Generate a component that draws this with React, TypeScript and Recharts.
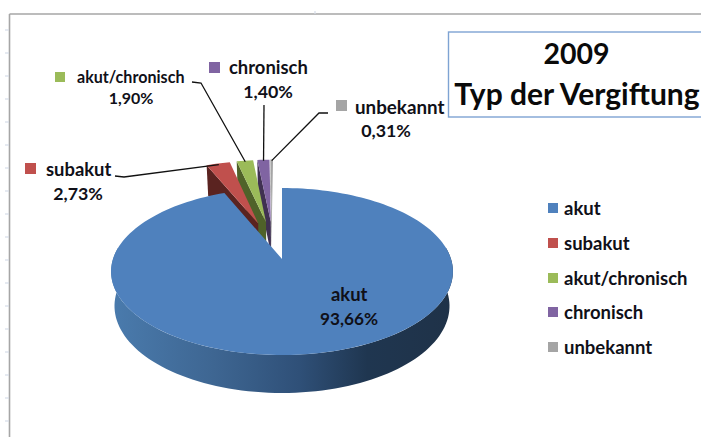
import React from "react";
import { PieChart, Pie, Legend, Customized } from "recharts";

const categories = ["akut", "subakut", "akut/chronisch", "chronisch", "unbekannt"];
const values = [93.66, 2.73, 1.9, 1.4, 0.31];
const topColors = ["#4f81bd", "#c0504d", "#9bbb59", "#8064a2", "#a5a5a5"];
const wallColors = ["#2f4f75", "#5a2320", "#4f6229", "#403152", "#6f6f6f"];
const tableData = categories.map((name, i) => ({ name, value: values[i], fill: topColors[i] }));
const backToFront = [...tableData].reverse();

const titleLines = ["2009", "Typ der Vergiftung"];
const leftTickRows = [30, 53, 76, 99, 122, 145, 168, 191, 214, 237, 260, 283, 306, 329, 352, 375, 398, 421];

const FONT = "Lato, 'Open Sans', sans-serif";
const TEXT = "#101018";

// perspective of the pie plane
const A = -42.85;
const C = 0.1497;
const EXPLODE = 0.49;
const NUDGE = [0, 0, -0.02, -0.04, -0.06];
const DEG = Math.PI / 180;

type Pt = { x: number; y: number };
const project = (cx: number, cy: number, r: number, u: number, v: number): Pt => {
  const w = 1 + C * v;
  return { x: cx + (r * u) / w, y: (cy + A * v) / w };
};
const lower = (cx: number, p: Pt): Pt => {
  const d = 30 + (8 * (p.y - 165)) / 190;
  return { x: cx + (p.x - cx) * 0.98, y: p.y + d };
};
const toPath = (pts: Pt[]) => "M" + pts.map((p) => `${p.x.toFixed(2)},${p.y.toFixed(2)}`).join("L") + "Z";

const arc = (cx: number, cy: number, r: number, from: number, to: number, ou = 0, ov = 0) => {
  const n = Math.max(4, Math.ceil(Math.abs(to - from) / 2));
  const out: Pt[] = [];
  for (let i = 0; i <= n; i++) {
    const a = (from + ((to - from) * i) / n) * DEG;
    out.push(project(cx, cy, r, Math.cos(a) + ou, Math.sin(a) + ov));
  }
  return out;
};

const offsetOf = (index: number, start: number, end: number) => {
  const mid = ((start + end) / 2) * DEG;
  return [EXPLODE * Math.cos(mid) + NUDGE[index], EXPLODE * Math.sin(mid)];
};

const SmallSlice = (props: any) => {
  const index = categories.indexOf(props.name);
  if (index <= 0) return <g />;
  const { cx, cy, outerRadius: r, startAngle, endAngle } = props;
  const [ou, ov] = offsetOf(index, startAngle, endAngle);
  const rim = arc(cx, cy, r, startAngle, endAngle, ou, ov);
  const apex = project(cx, cy, r, ou, ov);
  const last = rim[rim.length - 1];
  const wall = [apex, last, lower(cx, last), lower(cx, apex)];
  return (
    <g>
      <path d={toPath(wall)} fill={wallColors[index]} />
      <path d={toPath([apex, ...rim])} fill={topColors[index]} />
    </g>
  );
};

const MainSlice = (props: any) => {
  const index = categories.indexOf(props.name);
  if (index !== 0) return <g />;
  const { cx, cy, outerRadius: r, startAngle, endAngle } = props;
  const rim = arc(cx, cy, r, startAngle, endAngle);
  const apex = project(cx, cy, r, 0, 0);
  const front = arc(cx, cy, r, 172, 368);
  const wall = [...front, ...front.map((p) => lower(cx, p)).reverse()];
  return (
    <g>
      <defs>
        <linearGradient id="wallFill" x1="0" y1="0" x2="1" y2="0">
          <stop offset="0" stopColor="#4a7bad" />
          <stop offset="0.3" stopColor="#3e6692" />
          <stop offset="0.55" stopColor="#2f5078" />
          <stop offset="0.75" stopColor="#1f3650" />
          <stop offset="1" stopColor="#1f3248" />
        </linearGradient>
      </defs>
      <path d={toPath(wall)} fill="url(#wallFill)" />
      <path d={toPath([apex, ...rim])} fill={topColors[0]} />
    </g>
  );
};

const labelSpots = [
  { y: 301, sq: null as null | number[], nameX: 331, fs: 18.4, pct: 17.2, pctX: 349, pctDy: 24 },
  { y: 176, sq: [25, 163, 11], nameX: 46, fs: 18.4, pct: 17.8, pctX: 78, pctDy: 24 },
  { y: 83, sq: [55, 72, 10], nameX: 77, fs: 16.1, pct: 16, pctX: 131, pctDy: 21 },
  { y: 74, sq: [209, 62, 11], nameX: 229, fs: 18.4, pct: 17.8, pctX: 268, pctDy: 24 },
  { y: 114, sq: [336, 100, 11], nameX: 355, fs: 18.8, pct: 17.8, pctX: 386, pctDy: 23 },
];
const leaderBends = [
  null,
  [[115, 176], [124, 177]],
  [[192, 82], [201, 83]],
  [[264, 105], [264, 105]],
  [[328, 113], [319, 113]],
];

const SliceLabel = (props: any) => {
  const index = categories.indexOf(props.name);
  if (index < 0) return null;
  const { cx, cy, outerRadius: r, startAngle, endAngle, value } = props;
  const spot = labelSpots[index];
  const text = value.toFixed(2).replace(".", ",") + "%";
  const bend = leaderBends[index];
  let line = null;
  if (bend) {
    const [ou, ov] = offsetOf(index, startAngle, endAngle);
    const mid = ((startAngle + endAngle) / 2) * DEG;
    const end = project(cx, cy, r, Math.cos(mid) * 0.98 + ou, Math.sin(mid) * 0.98 + ov);
    line = (
      <polyline
        points={`${bend[0][0]},${bend[0][1]} ${bend[1][0]},${bend[1][1]} ${end.x},${end.y}`}
        fill="none"
        stroke="#111"
        strokeWidth={1.3}
      />
    );
  }
  return (
    <g>
      {line}
      {spot.sq && <rect x={spot.sq[0]} y={spot.sq[1]} width={spot.sq[2]} height={spot.sq[2]} fill={topColors[index]} />}
      <text x={spot.nameX} y={spot.y} fontFamily={FONT} fontWeight={700} fontSize={spot.fs} fill={TEXT}>
        {categories[index]}
      </text>
      <text x={spot.pctX} y={spot.y + spot.pctDy} textAnchor="middle" fontFamily={FONT} fontWeight={700} fontSize={spot.pct} fill={TEXT}>
        {text}
      </text>
    </g>
  );
};

const Frame = () => (
  <g>
    <line x1={9.5} y1={14} x2={701} y2={14} stroke="#a6a6a6" strokeWidth={1.6} />
    <line x1={9.5} y1={14} x2={9.5} y2={437} stroke="#a6a6a6" strokeWidth={1.6} />
    {leftTickRows.map((y) => (
      <line key={y} x1={5} y1={y} x2={9} y2={y} stroke="#d5dce8" strokeWidth={1.2} />
    ))}
    <line x1={315} y1={11} x2={315} y2={14} stroke="#d5dce8" strokeWidth={1.2} />
    <rect x={448.5} y={32} width={270} height={85} fill="#fff" stroke="#7ea3d3" strokeWidth={1.4} />
    <text x={576.5} y={64} textAnchor="middle" fontFamily={FONT} fontWeight={700} fontSize={28.5} fill="#0a0a0a">
      {titleLines[0]}
    </text>
    <text x={577} y={105} textAnchor="middle" fontFamily={FONT} fontWeight={700} fontSize={30} fill="#0a0a0a">
      {titleLines[1]}
    </text>
  </g>
);

const LegendBox = () => (
  <div>
    {categories.map((name, i) => (
      <div key={name} style={{ display: "flex", alignItems: "center", height: 34.7 }}>
        <span style={{ width: 10, height: 10, background: topColors[i], marginRight: 6, display: "inline-block" }} />
        <span style={{ fontFamily: FONT, fontWeight: 700, fontSize: 18.5, color: TEXT, whiteSpace: "nowrap" }}>{name}</span>
      </div>
    ))}
  </div>
);

export default function App() {
  return (
    <div style={{ position: "absolute", left: 0, top: 0, width: 701, height: 437, background: "#fff", overflow: "hidden" }}>
      <PieChart width={701} height={437} margin={{ top: 0, right: 0, bottom: 0, left: 0 }}>
        <Customized component={Frame} />
        <Pie
          data={backToFront}
          dataKey="value"
          nameKey="name"
          cx={282}
          cy={259}
          outerRadius={169}
          startAngle={90}
          endAngle={450}
          stroke="none"
          shape={SmallSlice}
          isAnimationActive={false}
          label={false}
          labelLine={false}
        />
        <Pie
          data={tableData}
          dataKey="value"
          nameKey="name"
          cx={282}
          cy={259}
          outerRadius={169}
          startAngle={90}
          endAngle={-270}
          stroke="none"
          shape={MainSlice}
          isAnimationActive={false}
          label={SliceLabel}
          labelLine={false}
        />
        <Legend
          layout="vertical"
          align="right"
          verticalAlign="top"
          itemSorter={null}
          content={LegendBox}
          wrapperStyle={{ position: "absolute", left: 548, top: 191, width: 150 }}
        />
      </PieChart>
    </div>
  );
}
